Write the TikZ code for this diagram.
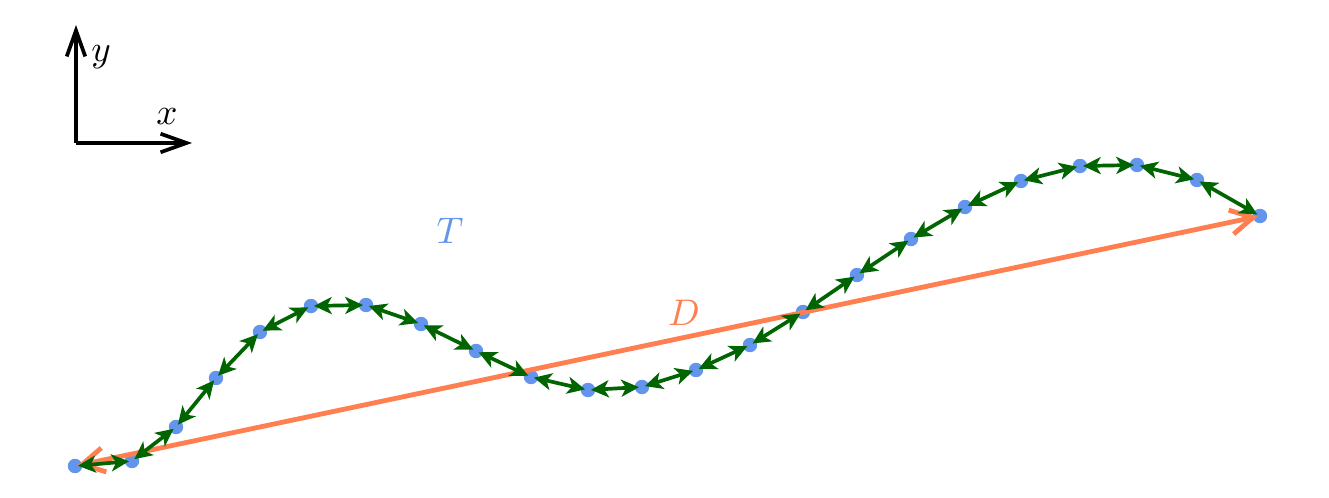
\documentclass[tikz,border=0pt]{standalone}
\usetikzlibrary{arrows.meta}
\definecolor{dotblue}{RGB}{100,149,237}
\definecolor{coral}{RGB}{255,127,80}
\definecolor{dgreen}{RGB}{0,100,0}
\begin{document}
\begin{tikzpicture}[x=0.27pt,y=-0.27pt,
  axis/.style={black,line width=1pt,-{Straight Barb[length=7pt,width=5pt]}},
  seg/.style={dgreen,line width=1pt,{Stealth[length=4.8pt,width=4.6pt,inset=1.3pt]}-{Stealth[length=4.8pt,width=4.6pt,inset=1.3pt]},shorten <=0.8pt,shorten >=0.8pt},
  disp/.style={coral,line width=1.3pt,{Straight Barb[length=6pt,width=6.6pt]}-{Straight Barb[length=6pt,width=6.6pt]},shorten <=0.6pt,shorten >=0.6pt},
  dot/.style={fill=dotblue,circle,inner sep=0pt,minimum size=3.9pt}]
\useasboundingbox (0,0) rectangle (1329,498);
% axes
\coordinate (o) at (76,143);
\coordinate (ytip) at (76,25);
\coordinate (xtip) at (192,143);
\draw[axis] (o) -- (ytip);
\draw[axis] (o) -- (xtip);
\node (ylab) at (101,57) {$y$};
\node (xlab) at (167,117) {$x$};
% points
\foreach \i/\x/\y in {1/75/466,2/132/461,3/176/427,4/216/378,5/260/332,6/311/306,7/366/305,8/421/324,9/476/351,10/531/377,11/588/390,12/642/387,13/696/370,14/750/345,15/803/312,16/857/275,17/911/239,18/965/207,19/1021/181,20/1080/166,21/1137/165,22/1197/180,23/1260/216}
  \coordinate (p\i) at (\x,\y);
\foreach \i in {1,...,23} \node[dot] (d\i) at (p\i) {};
% displacement
\draw[disp] (p1) -- (p23);
\node[text=coral] (D) at (684,313) {$D$};
\node[text=dotblue] (T) at (450,231) {$T$};
% trajectory segments
\foreach \i [evaluate=\i as \j using int(\i+1)] in {1,...,22}
  \draw[seg] (p\i) -- (p\j);
\end{tikzpicture}
\end{document}
